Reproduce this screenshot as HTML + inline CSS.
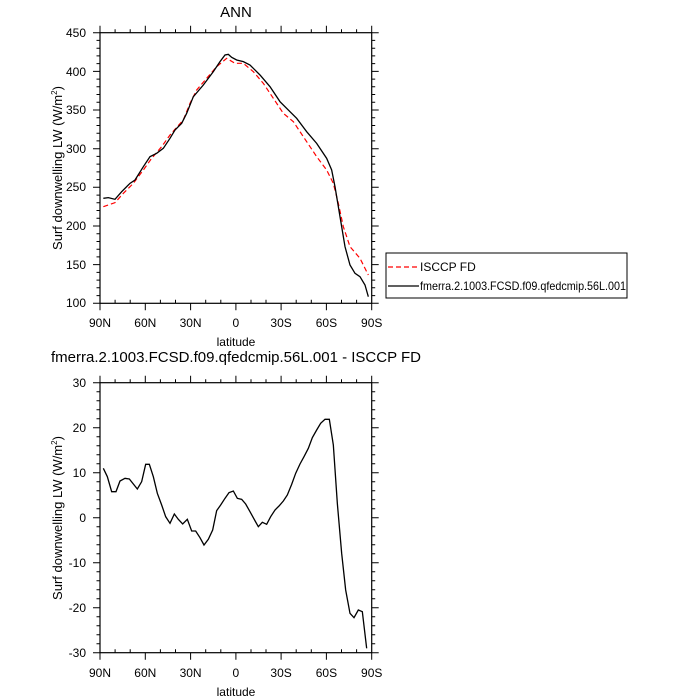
<!DOCTYPE html>
<html><head><style>
body{margin:0;background:#fff;}
svg{display:block;font-family:"Liberation Sans",sans-serif;}
</style></head><body>
<svg width="700" height="700" viewBox="0 0 700 700" xmlns="http://www.w3.org/2000/svg">
<defs>
<g id="ticksT" stroke="#000" stroke-width="1">
<path d="M100,32.7h-7M100,71.4h-7M100,110h-7M100,148.7h-7M100,187.3h-7M100,226h-7M100,264.6h-7M100,303.3h-7"/>
<path d="M371.7,32.7h7M371.7,71.4h7M371.7,110h7M371.7,148.7h7M371.7,187.3h7M371.7,226h7M371.7,264.6h7M371.7,303.3h7"/>
<path d="M100,40.4h-3.5M100,48.2h-3.5M100,55.9h-3.5M100,63.6h-3.5M100,79.1h-3.5M100,86.8h-3.5M100,94.5h-3.5M100,102.3h-3.5M100,117.7h-3.5M100,125.5h-3.5M100,133.2h-3.5M100,140.9h-3.5M100,156.4h-3.5M100,164.1h-3.5M100,171.9h-3.5M100,179.6h-3.5M100,195.1h-3.5M100,202.8h-3.5M100,210.5h-3.5M100,218.3h-3.5M100,233.7h-3.5M100,241.5h-3.5M100,249.2h-3.5M100,256.9h-3.5M100,272.4h-3.5M100,280.1h-3.5M100,287.8h-3.5M100,295.6h-3.5"/>
<path d="M371.7,40.4h3.5M371.7,48.2h3.5M371.7,55.9h3.5M371.7,63.6h3.5M371.7,79.1h3.5M371.7,86.8h3.5M371.7,94.5h3.5M371.7,102.3h3.5M371.7,117.7h3.5M371.7,125.5h3.5M371.7,133.2h3.5M371.7,140.9h3.5M371.7,156.4h3.5M371.7,164.1h3.5M371.7,171.9h3.5M371.7,179.6h3.5M371.7,195.1h3.5M371.7,202.8h3.5M371.7,210.5h3.5M371.7,218.3h3.5M371.7,233.7h3.5M371.7,241.5h3.5M371.7,249.2h3.5M371.7,256.9h3.5M371.7,272.4h3.5M371.7,280.1h3.5M371.7,287.8h3.5M371.7,295.6h3.5"/>
</g>
<g id="xt" stroke="#000" stroke-width="1">
<path d="M100,0v7M145.3,0v7M190.6,0v7M235.9,0v7M281.1,0v7M326.4,0v7M371.7,0v7"/>
<path d="M115.1,0v-3.5M130.2,0v-3.5M160.4,0v-3.5M175.5,0v-3.5M205.7,0v-3.5M220.8,0v-3.5M251,0v-3.5M266,0v-3.5M296.2,0v-3.5M311.3,0v-3.5M341.5,0v-3.5M356.6,0v-3.5"/>
</g>
<g id="xtt" stroke="#000" stroke-width="1">
<path d="M100,0v-7M145.3,0v-7M190.6,0v-7M235.9,0v-7M281.1,0v-7M326.4,0v-7M371.7,0v-7"/>
<path d="M115.1,0v-3.5M130.2,0v-3.5M160.4,0v-3.5M175.5,0v-3.5M205.7,0v-3.5M220.8,0v-3.5M251,0v-3.5M266,0v-3.5M296.2,0v-3.5M311.3,0v-3.5M341.5,0v-3.5M356.6,0v-3.5"/>
</g>
</defs>
<g id="top">
<text x="236" y="17" font-size="15" text-anchor="middle">ANN</text>
<rect x="100" y="32.7" width="271.7" height="270.6" fill="none" stroke="#000" stroke-width="1.2"/>
<use href="#ticksT"/>
<use href="#xt" transform="translate(0,303.3)"/>
<use href="#xtt" transform="translate(0,32.7)"/>
<g font-size="12" text-anchor="end">
<text x="86" y="37">450</text><text x="86" y="76">400</text><text x="86" y="114">350</text><text x="86" y="153">300</text><text x="86" y="191">250</text><text x="86" y="230">200</text><text x="86" y="269">150</text><text x="86" y="307">100</text>
</g>
<g font-size="12" text-anchor="middle">
<text x="100" y="327">90N</text><text x="145.3" y="327">60N</text><text x="190.6" y="327">30N</text><text x="235.9" y="327">0</text><text x="281.1" y="327">30S</text><text x="326.4" y="327">60S</text><text x="371.7" y="327">90S</text>
<text x="236" y="346">latitude</text>
</g>
<text transform="translate(62,168) rotate(-90)" font-size="13" text-anchor="middle">Surf downwelling LW (W/m<tspan font-size="8" dy="-5">2</tspan><tspan dy="5">)</tspan></text>
<g transform="translate(50,20) scale(0.33333)" fill="none">
<polyline vector-effect="non-scaling-stroke" stroke="#f00" stroke-width="1.2" stroke-dasharray="5,3" points="160,560 195,548 220,520 250,490 280,450 305,415 335,380 360,345 380,322 400,300 420,250 440,210 470,175 500,140 530,115 555,130 580,130 610,155 640,190 670,235 700,280 730,305 760,350 800,410 830,450 850,490 865,550 880,620 900,680 930,715 955,765"/>
<polyline vector-effect="non-scaling-stroke" stroke="#000" stroke-width="1.3" points="160,535 175,533 195,538 215,515 240,490 255,480 280,440 300,410 320,400 340,385 360,355 375,330 395,310 410,280 430,230 460,195 490,155 510,125 525,105 535,103 545,112 560,120 580,125 600,135 630,165 660,200 690,245 720,275 740,295 770,335 800,370 830,415 845,450 855,500 865,560 875,620 885,680 900,735 915,760 930,770 945,795 955,830"/>
</g>
</g>
<rect x="386" y="253" width="241" height="45" fill="none" stroke="#000" stroke-width="1"/>
<line x1="388" y1="267" x2="419" y2="267" stroke="#f00" stroke-width="1.2" stroke-dasharray="5,3"/>
<line x1="388" y1="286" x2="419" y2="286" stroke="#000" stroke-width="1.2"/>
<text x="420" y="271" font-size="12">ISCCP FD</text>
<text x="420" y="290" font-size="12" textLength="206" lengthAdjust="spacingAndGlyphs">fmerra.2.1003.FCSD.f09.qfedcmip.56L.001</text>

<g id="bot">
<text x="236" y="362" font-size="15" text-anchor="middle" textLength="370" lengthAdjust="spacingAndGlyphs">fmerra.2.1003.FCSD.f09.qfedcmip.56L.001 - ISCCP FD</text>
<rect x="100" y="382.7" width="271.7" height="270" fill="none" stroke="#000" stroke-width="1.2"/>
<g stroke="#000" stroke-width="1">
<path d="M100,382.7h-7M100,427.7h-7M100,472.7h-7M100,517.7h-7M100,562.7h-7M100,607.7h-7M100,652.7h-7"/>
<path d="M371.7,382.7h7M371.7,427.7h7M371.7,472.7h7M371.7,517.7h7M371.7,562.7h7M371.7,607.7h7M371.7,652.7h7"/>
<path d="M100,391.7h-3.5M100,400.7h-3.5M100,409.7h-3.5M100,418.7h-3.5M100,436.7h-3.5M100,445.7h-3.5M100,454.7h-3.5M100,463.7h-3.5M100,481.7h-3.5M100,490.7h-3.5M100,499.7h-3.5M100,508.7h-3.5M100,526.7h-3.5M100,535.7h-3.5M100,544.7h-3.5M100,553.7h-3.5M100,571.7h-3.5M100,580.7h-3.5M100,589.7h-3.5M100,598.7h-3.5M100,616.7h-3.5M100,625.7h-3.5M100,634.7h-3.5M100,643.7h-3.5"/>
<path d="M371.7,391.7h3.5M371.7,400.7h3.5M371.7,409.7h3.5M371.7,418.7h3.5M371.7,436.7h3.5M371.7,445.7h3.5M371.7,454.7h3.5M371.7,463.7h3.5M371.7,481.7h3.5M371.7,490.7h3.5M371.7,499.7h3.5M371.7,508.7h3.5M371.7,526.7h3.5M371.7,535.7h3.5M371.7,544.7h3.5M371.7,553.7h3.5M371.7,571.7h3.5M371.7,580.7h3.5M371.7,589.7h3.5M371.7,598.7h3.5M371.7,616.7h3.5M371.7,625.7h3.5M371.7,634.7h3.5M371.7,643.7h3.5"/>
</g>
<use href="#xt" transform="translate(0,652.7)"/>
<use href="#xtt" transform="translate(0,382.7)"/>
<g font-size="12" text-anchor="end">
<text x="86" y="387">30</text><text x="86" y="432">20</text><text x="86" y="477">10</text><text x="86" y="522">0</text><text x="86" y="567">-10</text><text x="86" y="612">-20</text><text x="86" y="657">-30</text>
</g>
<g font-size="12" text-anchor="middle">
<text x="100" y="677">90N</text><text x="145.3" y="677">60N</text><text x="190.6" y="677">30N</text><text x="235.9" y="677">0</text><text x="281.1" y="677">30S</text><text x="326.4" y="677">60S</text><text x="371.7" y="677">90S</text>
<text x="236" y="696">latitude</text>
</g>
<text transform="translate(62,518) rotate(-90)" font-size="13" text-anchor="middle">Surf downwelling LW (W/m<tspan font-size="8" dy="-5">2</tspan><tspan dy="5">)</tspan></text>
<g transform="translate(50,370) scale(0.33333)" fill="none">
<polyline vector-effect="non-scaling-stroke" stroke="#000" stroke-width="1.3" points="160,295 172,320 185,365 198,365 210,333 225,325 238,327 262,357 275,335 287,283 298,283 310,320 322,370 335,405 347,440 360,460 373,432 385,448 398,462 412,448 425,483 437,483 450,503 462,525 475,508 488,480 500,422 512,405 525,385 537,368 550,363 562,385 575,388 587,402 600,425 612,447 625,470 637,457 650,463 662,440 675,420 687,408 700,393 712,375 725,343 737,310 750,282 762,260 775,235 787,203 800,180 812,160 825,148 838,148 850,225 862,400 875,550 887,660 900,730 912,743 925,720 937,725 950,835"/>
</g>
</g>
</svg>
</body></html>
